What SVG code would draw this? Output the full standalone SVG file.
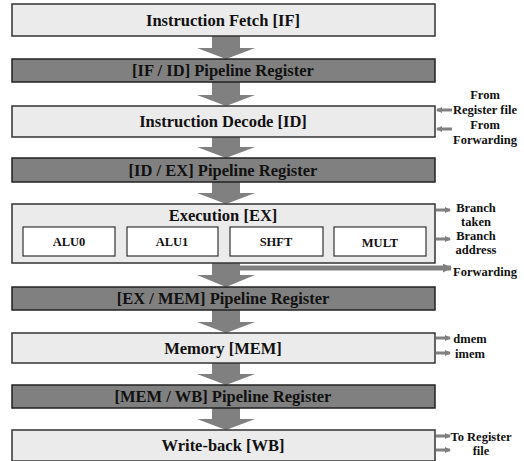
<svg xmlns="http://www.w3.org/2000/svg" width="524" height="461" viewBox="0 0 524 461">
<style>
.stage{fill:#ebebeb;stroke:#333;stroke-width:1.5}
.reg{fill:#808080;stroke:#222;stroke-width:1.5}
.unit{fill:#fff;stroke:#333;stroke-width:1.2}
.big{fill:#808080}
text{font-family:'Liberation Serif','Times New Roman','DejaVu Serif',serif;font-weight:bold;fill:#111;text-anchor:middle}
.tm{font-size:16.5px}
.tu{font-size:12.5px}
.ts{font-size:12.5px}
.side{stroke:#808080;stroke-width:3;fill:none}
</style>
<defs>
<marker id="ah" markerWidth="6" markerHeight="6" refX="5" refY="3" orient="auto" markerUnits="userSpaceOnUse">
<path d="M0,0 L6,3 L0,6 z" fill="#808080"/>
</marker>
<marker id="ahb" markerWidth="9" markerHeight="9" refX="8" refY="4.5" orient="auto" markerUnits="userSpaceOnUse">
<path d="M0,0 L9,4.5 L0,9 z" fill="#808080"/>
</marker>
</defs>
<g id="connectors">
<polygon class="big" points="212,36 240,36 240,48 255,48 226,59 197,48 212,48"/>
<polygon class="big" points="212,82 240,82 240,95 255,95 226,106 197,95 212,95"/>
<polygon class="big" points="212,137 240,137 240,147 255,147 226,158 197,147 212,147"/>
<polygon class="big" points="212,182 240,182 240,193 255,193 226,204 197,193 212,193"/>
<polygon class="big" points="212,263 240,263 240,275 255,275 226,287 197,275 212,275"/>
<polygon class="big" points="212,310 240,310 240,322 255,322 226,333 197,322 212,322"/>
<polygon class="big" points="212,363 240,363 240,374 255,374 226,385 197,374 212,374"/>
<polygon class="big" points="212,408 240,408 240,419 255,419 226,430 197,419 212,419"/>
<line x1="240" y1="268" x2="451" y2="268" stroke="#808080" stroke-width="5" marker-end="url(#ahb)"/>
<line class="side" x1="452" y1="110" x2="437" y2="110" marker-end="url(#ah)"/>
<line class="side" x1="452" y1="129" x2="437" y2="129" marker-end="url(#ah)"/>
<line class="side" x1="436" y1="210" x2="450" y2="210" marker-end="url(#ah)"/>
<line class="side" x1="436" y1="239" x2="450" y2="239" marker-end="url(#ah)"/>
<line class="side" x1="436" y1="338" x2="450" y2="338" marker-end="url(#ah)"/>
<line class="side" x1="436" y1="353" x2="450" y2="353" marker-end="url(#ah)"/>
<line class="side" x1="436" y1="436" x2="450" y2="436" marker-end="url(#ah)"/>
<line class="side" x1="436" y1="450" x2="450" y2="450" marker-end="url(#ah)"/>
</g>
<g id="if"><rect class="stage" x="12" y="4" width="423" height="32"/><text class="tm" x="223" y="26">Instruction Fetch [IF]</text></g>
<g id="ifid"><rect class="reg" x="12" y="59" width="423" height="23"/><text class="tm" x="223" y="76">[IF / ID] Pipeline Register</text></g>
<g id="id"><rect class="stage" x="12" y="106" width="423" height="31"/><text class="tm" x="223" y="127">Instruction Decode [ID]</text></g>
<g id="idex"><rect class="reg" x="12" y="158" width="423" height="24"/><text class="tm" x="223" y="176">[ID / EX] Pipeline Register</text></g>
<g id="ex"><rect class="stage" x="12" y="204" width="423" height="59"/><text class="tm" x="223" y="221">Execution [EX]</text></g>
<g id="alu0"><rect class="unit" x="23" y="227" width="92" height="29"/><text class="tu" x="69" y="246">ALU0</text></g>
<g id="alu1"><rect class="unit" x="127" y="227" width="91" height="29"/><text class="tu" x="172" y="246">ALU1</text></g>
<g id="shft"><rect class="unit" x="230" y="227" width="93" height="29"/><text class="tu" x="276" y="246">SHFT</text></g>
<g id="mult"><rect class="unit" x="334" y="227" width="92" height="29"/><text class="tu" x="380" y="247">MULT</text></g>
<g id="exmem"><rect class="reg" x="12" y="287" width="423" height="23"/><text class="tm" x="223" y="304">[EX / MEM] Pipeline Register</text></g>
<g id="mem"><rect class="stage" x="12" y="333" width="423" height="30"/><text class="tm" x="223" y="354">Memory [MEM]</text></g>
<g id="memwb"><rect class="reg" x="12" y="385" width="423" height="23"/><text class="tm" x="223" y="402">[MEM / WB] Pipeline Register</text></g>
<g id="wb"><rect class="stage" x="12" y="430" width="423" height="31"/><text class="tm" x="223" y="451">Write-back [WB]</text></g>
<g id="labels">
<text class="ts" x="485" y="99">From</text>
<text class="ts" x="485" y="114">Register file</text>
<text class="ts" x="485" y="129">From</text>
<text class="ts" x="485" y="144">Forwarding</text>
<text class="ts" x="476" y="212">Branch</text>
<text class="ts" x="476" y="226">taken</text>
<text class="ts" x="476" y="240">Branch</text>
<text class="ts" x="476" y="254">address</text>
<text class="ts" x="485" y="276">Forwarding</text>
<text class="ts" x="470" y="343">dmem</text>
<text class="ts" x="470" y="358">imem</text>
<text class="ts" x="481" y="441">To Register</text>
<text class="ts" x="481" y="455">file</text>
</g>
</svg>
